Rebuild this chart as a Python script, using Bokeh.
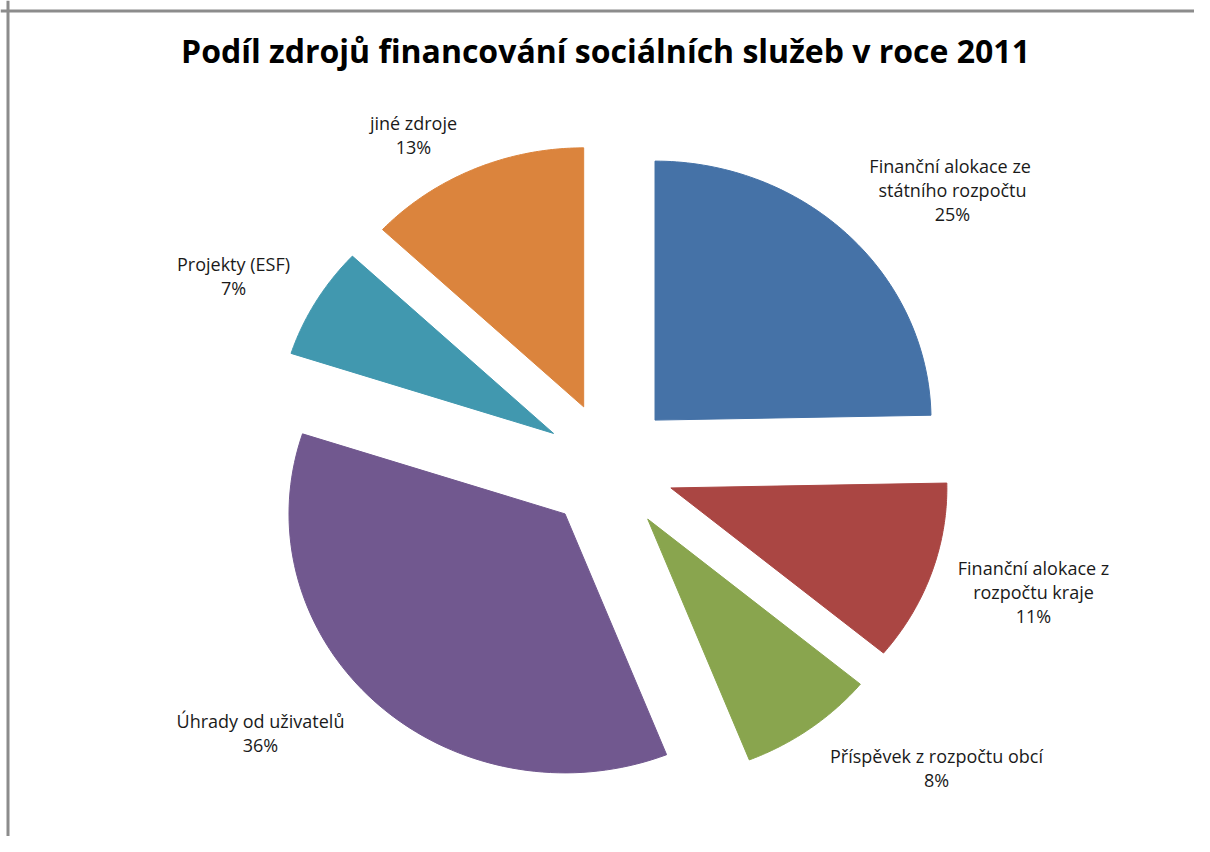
import numpy as np
from bokeh.plotting import figure
from bokeh.models import ColumnDataSource, Range1d, Span, Label
from bokeh.core.properties import value
from bokeh.embed import file_html
from bokeh.resources import INLINE

# ---- data ----
title_text = "Podíl zdrojů financování sociálních služeb v roce 2011"
categories = [
    "Finanční alokace  ze\nstátního rozpočtu",
    "Finanční alokace z\nrozpočtu kraje",
    "Příspěvek z rozpočtu obcí",
    "Úhrady od uživatelů",
    "Projekty (ESF)",
    "jiné zdroje",
]
shares = [24.7, 11.3, 8.0, 36.0, 7.0, 13.0]

# ---- styles / layout ----
colors = ["#4572A7", "#AA4643", "#89A54E", "#71588F", "#4198AF", "#DB843D"]
label_x = [952, 1033, 936, 260, 233, 413]
label_top = [165, 567, 755, 720, 263, 122]
LINE_STEP = 24

W, H = 1194, 836
CX, CY = 609, 466
RX, RY = 276, 259
EXPLODE = 65

p = figure(width=W, height=H, output_backend="svg", toolbar_location=None,
           x_range=Range1d(0, W), y_range=Range1d(H, 0),
           min_border=0, outline_line_color=None)
p.axis.visible = False
p.grid.visible = False
p.background_fill_color = "white"
p.border_fill_color = "white"

total = float(sum(shares))
cum = np.concatenate([[0.0], np.cumsum(shares)]) / total * 2 * np.pi
xs, ys = [], []
for i in range(len(shares)):
    a0, a1 = cum[i], cum[i + 1]
    m = 0.5 * (a0 + a1)
    ax = CX + EXPLODE * np.sin(m)
    ay = CY - EXPLODE * np.cos(m)
    t = np.linspace(a0, a1, 80)
    px = np.concatenate([[ax], ax + RX * np.sin(t)])
    py = np.concatenate([[ay], ay - RY * np.cos(t)])
    xs.append(px.tolist())
    ys.append(py.tolist())

src = ColumnDataSource(dict(xs=xs, ys=ys, color=colors))
p.patches("xs", "ys", fill_color="color", line_color="color", line_width=1, source=src)

tx, ty, tt = [], [], []
for c, s, lx, ly in zip(categories, shares, label_x, label_top):
    lines = c.split("\n") + [f"{round(s / total * 100)}%"]
    for k, ln in enumerate(lines):
        tx.append(lx)
        ty.append(ly + k * LINE_STEP)
        tt.append(ln)
lsrc = ColumnDataSource(dict(x=tx, y=ty, text=tt))
p.text("x", "y", text="text", source=lsrc, text_align="center", text_baseline="middle",
       text_font=value("Open Sans"), text_font_size="18px", text_color="#1a1a1a")

p.add_layout(Label(x=605, y=50, text=title_text, text_align="center", text_baseline="middle",
                   text_font="Open Sans", text_font_style="bold", text_font_size="32px",
                   text_color="#000000"))

p.add_layout(Span(location=10.5, dimension="width", line_color="#8c8c8c", line_width=3))
p.add_layout(Span(location=7.5, dimension="height", line_color="#8c8c8c", line_width=3))

open("out.html", "w").write(file_html(p, INLINE))
